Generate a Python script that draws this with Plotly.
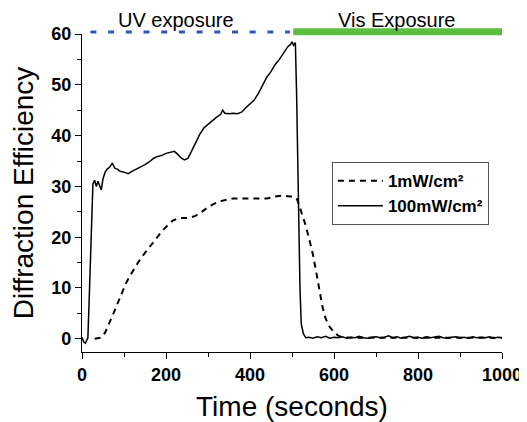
import plotly.graph_objects as go

# 100 mW/cm2 trace (solid)
t_100 = [0, 4, 8, 14, 18, 22, 26, 30, 34, 38, 42, 46, 50, 55, 60, 66, 72, 78, 84, 90,
         100, 110, 120, 130, 140, 150, 160, 170, 180, 190, 200, 210, 220, 228, 236, 244,
         252, 260, 270, 280, 290, 300, 310, 320, 330, 335, 340, 350, 360, 370, 380, 390,
         400, 410, 420, 430, 440, 450, 460, 470, 480, 490, 496, 500, 504, 508, 511, 515,
         519, 522, 527, 533, 540, 550, 560, 570, 580, 590, 600, 610, 620, 630, 640, 650,
         660, 670, 680, 690, 700, 710, 720, 730, 740, 750, 760, 770, 780, 790, 800, 810,
         820, 830, 840, 850, 860, 870, 880, 890, 900, 910, 920, 930, 940, 950, 960, 970,
         980, 990, 1000]
de_100 = [0.3, -0.6, -0.9, 0.2, 10, 22, 30.5, 31.2, 30.0, 31.0, 30.2, 29.3, 31.5, 32.8, 33.4, 33.8, 34.6, 33.6, 33.4, 33.0,
          32.8, 32.5, 33.0, 33.4, 33.9, 34.3, 34.8, 35.5, 35.9, 36.1, 36.5, 36.7, 36.9, 36.3, 35.6, 35.2,
          35.5, 36.8, 38.5, 40.2, 41.5, 42.3, 42.9, 43.6, 44.2, 45.0, 44.4, 44.3, 44.4, 44.3, 44.6, 45.5,
          46.2, 47.0, 48.3, 50.0, 51.5, 52.6, 54.0, 55.0, 56.3, 57.5, 57.9, 58.4, 57.8, 58.3, 48, 28,
          10, 3, 1, 0.2, 0.3, 0.1, 0.4, 0.2, 0.5, 0.1, 0.3, 0.2, 0.4, 0.1, 0.3, 0.2,
          0.5, 0.2, 0.1, 0.3, 0.4, 0.2, 0.3, 0.6, 0.2, 0.4, 0.1, 0.3, 0.5, 0.2, 0.3, 0.1,
          0.4, 0.2, 0.3, 0.5, 0.2, 0.1, 0.3, 0.4, 0.2, 0.3, 0.1, 0.4, 0.2, 0.3, 0.2, 0.4,
          0.1, 0.3, 0.2]

# 1 mW/cm2 trace (dashed)
t_1 = [30, 45, 55, 65, 75, 85, 95, 105, 115, 125, 135, 145, 155, 165, 175, 185, 195, 205,
       215, 225, 240, 255, 270, 285, 300, 315, 330, 345, 360, 380, 400, 420, 440, 460, 480,
       495, 505, 512, 520, 530, 540, 550, 558, 565, 572, 580, 590, 600, 610, 620, 650, 700,
       750, 800, 850, 900, 950, 1000]
de_1 = [0, 0.2, 1.2, 3.0, 5.0, 7.0, 9.0, 11.0, 12.5, 14.0, 15.2, 16.4, 17.5, 18.6, 19.6, 20.6, 21.6, 22.5,
        23.2, 23.6, 23.8, 23.8, 24.2, 25.0, 25.9, 26.6, 27.1, 27.4, 27.6, 27.6, 27.6, 27.7, 27.6, 28.0, 28.2,
        28.0, 28.0, 27.5, 25.5, 23, 20, 16.5, 13, 9.5, 6.5, 4.0, 2.3, 1.3, 0.6, 0.3, 0.2, 0.2,
        0.2, 0.2, 0.2, 0.2, 0.2, 0.2]

uv_span = [20, 495]
vis_span = [503, 1000]
phase_labels = ["UV exposure", "Vis Exposure"]
phase_centers = [224, 748]

FONT = "Liberation Sans, Arial, sans-serif"

fig = go.Figure()
fig.add_trace(go.Scatter(x=t_1, y=de_1, mode="lines", name="1mW/cm²",
                         line=dict(color="black", width=2, dash="6px,5px")))
fig.add_trace(go.Scatter(x=t_100, y=de_100, mode="lines", name="100mW/cm²",
                         line=dict(color="black", width=1.5)))

# exposure bars above the plot
fig.add_shape(type="line", xref="x", yref="paper", x0=uv_span[0], x1=uv_span[1], y0=1.006, y1=1.006,
              line=dict(color="#2f55b5", width=3, dash="6px,11.7px"))
fig.add_shape(type="line", xref="x", yref="paper", x0=vis_span[0], x1=vis_span[1], y0=1.007, y1=1.007,
              line=dict(color="#5cbf3f", width=7))
for lab, xc in zip(phase_labels, phase_centers):
    fig.add_annotation(x=xc, y=1.043, xref="x", yref="paper", text=lab, showarrow=False,
                       font=dict(family=FONT, size=20, color="black"), yanchor="middle")

# page body has an 8px margin, so the figure is 8px smaller than the window
fig.update_layout(
    width=519, height=414,
    margin=dict(l=74, r=25, t=26, b=70),
    plot_bgcolor="white", paper_bgcolor="white",
    font=dict(family=FONT, color="black"),
    legend=dict(x=0.595, y=0.597, xanchor="left", yanchor="top",
                bordercolor="#555", borderwidth=1,
                font=dict(family=FONT, size=17, weight="bold"),
                tracegroupgap=0, itemwidth=45),
)
fig.update_xaxes(range=[0, 1000], showgrid=False, zeroline=False, automargin=False,
                 showline=True, linecolor="black", linewidth=1.3,
                 ticks="outside", ticklen=6, tickwidth=1.3, tickcolor="black",
                 tick0=0, dtick=200,
                 minor=dict(ticks="outside", ticklen=4, tickwidth=1.3, tickcolor="black", dtick=100),
                 tickfont=dict(family=FONT, size=18, weight="bold"),
                 title=dict(text="Time (seconds)", font=dict(family=FONT, size=28), standoff=16))
fig.update_yaxes(range=[-2.6, 60], showgrid=False, zeroline=False, automargin=False,
                 showline=True, linecolor="black", linewidth=1.3,
                 ticks="outside", ticklen=6, tickwidth=1.3, tickcolor="black",
                 tick0=0, dtick=10,
                 minor=dict(ticks="outside", ticklen=4, tickwidth=1.3, tickcolor="black", dtick=5),
                 tickfont=dict(family=FONT, size=18, weight="bold"),
                 title=dict(text="Diffraction Efficiency", font=dict(family=FONT, size=28), standoff=10))

fig.write_html("out.html")
